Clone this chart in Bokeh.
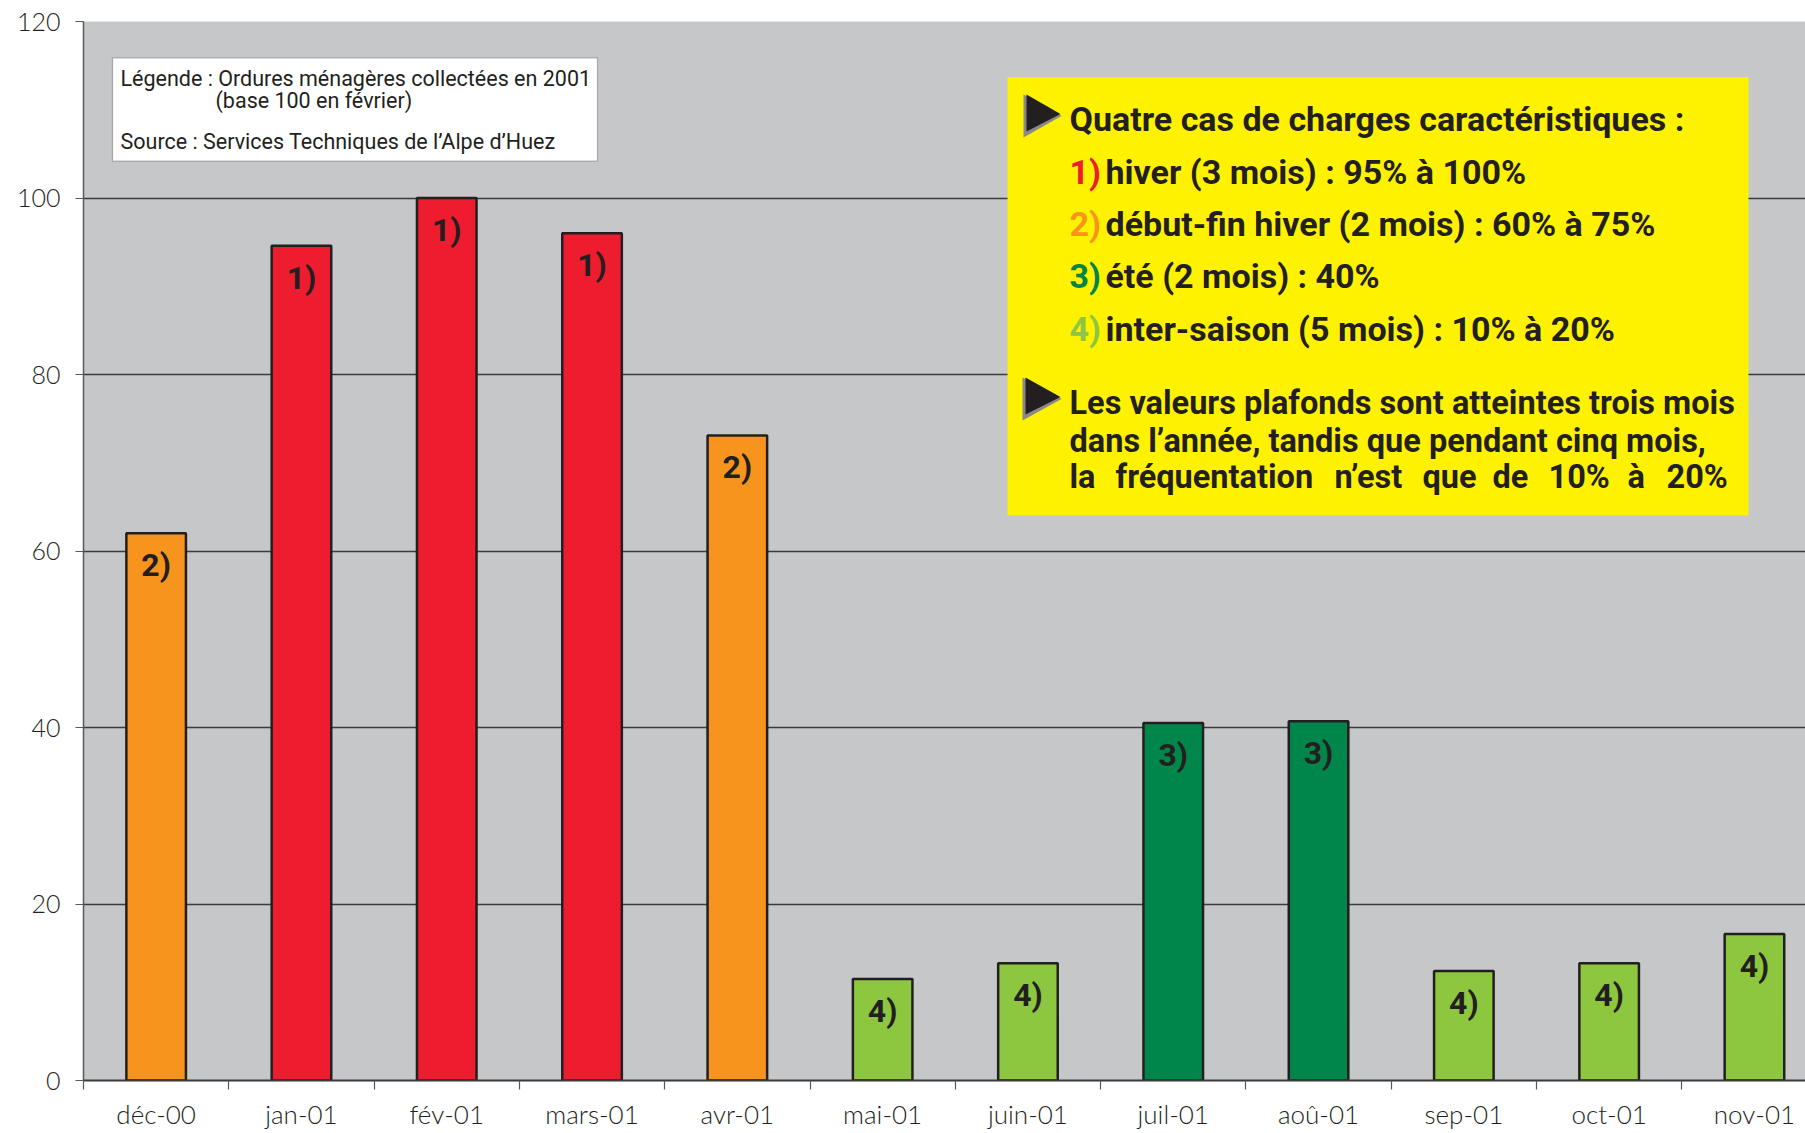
from bokeh.plotting import figure
from bokeh.models import (Range1d, FixedTicker, BoxAnnotation, Label, ColumnDataSource,
                          PolyAnnotation, CustomJSTickFormatter)
from bokeh.core.properties import value
from bokeh.embed import file_html
from bokeh.resources import INLINE

# Household waste collected at Alpe d'Huez, index base 100 = February 2001
months = ["déc-00", "jan-01", "fév-01", "mars-01", "avr-01", "mai-01",
          "juin-01", "juil-01", "aoû-01", "sep-01", "oct-01", "nov-01"]
waste_index = [62.0, 94.6, 100.0, 96.0, 73.1, 11.5, 13.3, 40.5, 40.7, 12.4, 13.3, 16.6]
load_case = [2, 1, 1, 1, 2, 4, 4, 3, 3, 4, 4, 4]
case_colors = {1: "#ed1c2e", 2: "#f7941d", 3: "#00854a", 4: "#8dc63f"}
y_ticks = [0, 20, 40, 60, 80, 100, 120]

case_lines = [
    (1, "hiver (3 mois) : 95% à 100%"),
    (2, "début-fin hiver (2 mois) : 60% à 75%"),
    (3, "été (2 mois) : 40%"),
    (4, "inter-saison (5 mois) : 10% à 20%"),
]
summary_lines = [
    "Les valeurs plafonds sont atteintes trois mois",
    "dans l’année, tandis que pendant cinq mois,",
]
# last line is justified: words with their left edges in pixels
summary_last = [("la", 1069), ("fréquentation", 1115), ("n’est", 1334), ("que", 1422),
                ("de", 1492), ("10%", 1548), ("à", 1627), ("20%", 1666)]

W, H = 1805, 1133
FL, FT, FR, FB = 83, 21, 1805, 1080          # plot frame edges in pixels
CAT_PX = 145.3                                # pixel width of one month
X_END = (FR - FL) / CAT_PX


def dx(px):
    return (px - FL) / (FR - FL) * X_END


def dy(py):
    return (FB - py) / (FB - FT) * 120


p = figure(width=W, height=H, x_range=Range1d(0, X_END), y_range=Range1d(0, 120),
           output_backend="svg", toolbar_location=None,
           min_border_left=FL, min_border_right=0, min_border_top=FT,
           min_border_bottom=H - FB)
p.background_fill_color = "#c6c7c9"
p.border_fill_color = "white"
p.outline_line_color = None

AXIS_FONT = "Lato Light"
TEXT_FONT = "Roboto"

# y axis
p.yaxis.ticker = FixedTicker(ticks=y_ticks)
p.yaxis.major_tick_out = 8
p.yaxis.major_tick_in = 0
p.yaxis.minor_tick_line_color = None
p.yaxis.major_label_standoff = 15
p.yaxis.axis_line_color = "#58595b"
p.yaxis.axis_line_width = 1.5
p.yaxis.major_tick_line_color = "#58595b"
p.yaxis.major_label_text_font = AXIS_FONT
p.yaxis.major_label_text_font_size = "25px"
p.yaxis.major_label_text_color = "#231f20"

# x axis: labels at month centres, tick marks between months
p.xaxis.ticker = FixedTicker(ticks=[i + 0.5 for i in range(len(months))],
                             minor_ticks=list(range(len(months) + 1)))
p.xaxis.formatter = CustomJSTickFormatter(args=dict(labels=months),
                                          code="return labels[Math.floor(tick)] || ''")
p.xaxis.major_tick_line_color = None
p.xaxis.major_tick_out = 0
p.xaxis.major_tick_in = 0
p.xaxis.minor_tick_out = 9
p.xaxis.minor_tick_in = 0
p.xaxis.minor_tick_line_color = "#58595b"
p.xaxis.minor_tick_line_width = 1.2
p.xaxis.axis_line_color = "#3a3a3a"
p.xaxis.axis_line_width = 2
p.xaxis.major_label_standoff = 8
p.xaxis.major_label_text_font = AXIS_FONT
p.xaxis.major_label_text_font_size = "26px"
p.xaxis.major_label_text_color = "#231f20"

p.xgrid.visible = False
p.ygrid.ticker = FixedTicker(ticks=y_ticks)
p.ygrid.grid_line_color = "#3b3b3b"
p.ygrid.grid_line_width = 1.3

src = ColumnDataSource(dict(
    x=[i + 0.5 for i in range(len(months))],
    top=waste_index,
    color=[case_colors[c] for c in load_case],
    tag=[f"{c})" for c in load_case],
))
p.vbar(x="x", top="top", width=0.41, bottom=0, source=src,
       fill_color="color", line_color="#231f20", line_width=2.5)
p.text(x="x", y="top", text="tag", source=src, y_offset=32,
       text_align="center", text_baseline="alphabetic",
       text_font=value(TEXT_FONT), text_font_style="bold",
       text_font_size="32px", text_color="#231f20")


def text_at(txt, px, baseline_px, size, color="#231f20", bold=False):
    # place a text by its left edge and baseline given in pixels
    shift = 0.35 * size
    p.add_layout(Label(x=dx(px), y=dy(baseline_px - shift), text=txt,
                       text_font=TEXT_FONT, text_font_style="bold" if bold else "normal",
                       text_font_size=f"{size}px", text_color=color,
                       text_baseline="alphabetic", text_align="left"))


# legend / source box
p.add_layout(BoxAnnotation(left=dx(112), right=dx(597), top=dy(57.3), bottom=dy(160.7),
                           fill_color="white", fill_alpha=1.0,
                           line_color="#231f20", line_width=1.2))
text_at("Légende : Ordures ménagères collectées en 2001", 120, 85.7, 21.5)
text_at("(base 100 en février)", 215, 107.5, 21.5)
text_at("Source : Services Techniques de l’Alpe d’Huez", 120, 149, 21.5)

# yellow comment panel
p.add_layout(BoxAnnotation(left=dx(1007), right=dx(1748), top=dy(76.7), bottom=dy(515),
                           fill_color="#fff200", fill_alpha=1.0, line_color=None))


def arrow(top_px, bottom_px, left_px, tip_px):
    mid = (top_px + bottom_px) / 2
    p.add_layout(PolyAnnotation(xs=[dx(left_px), dx(left_px), dx(tip_px)],
                                ys=[dy(top_px), dy(bottom_px), dy(mid)],
                                fill_color="#8a8a8a", fill_alpha=1.0, line_color=None))
    p.add_layout(PolyAnnotation(xs=[dx(left_px + 3), dx(left_px + 3), dx(tip_px - 1)],
                                ys=[dy(top_px), dy(bottom_px - 6), dy(mid - 2)],
                                fill_color="#231f20", fill_alpha=1.0, line_color=None))


arrow(94, 137, 1023, 1061)
arrow(377, 420, 1022, 1061)

text_at("Quatre cas de charges caractéristiques :", 1069, 130.7, 34, bold=True)
for (case, txt), base in zip(case_lines, [183.3, 235, 287.7, 340]):
    text_at(f"{case})", 1069, base, 34, color=case_colors[case], bold=True)
    text_at(txt, 1105, base, 34, bold=True)
for txt, base in zip(summary_lines, [414, 451.7]):
    text_at(txt, 1069, base, 32.5, bold=True)
for word, px in summary_last:
    text_at(word, px, 488.3, 32.5, bold=True)

open("out.html", "w").write(file_html(p, INLINE))
